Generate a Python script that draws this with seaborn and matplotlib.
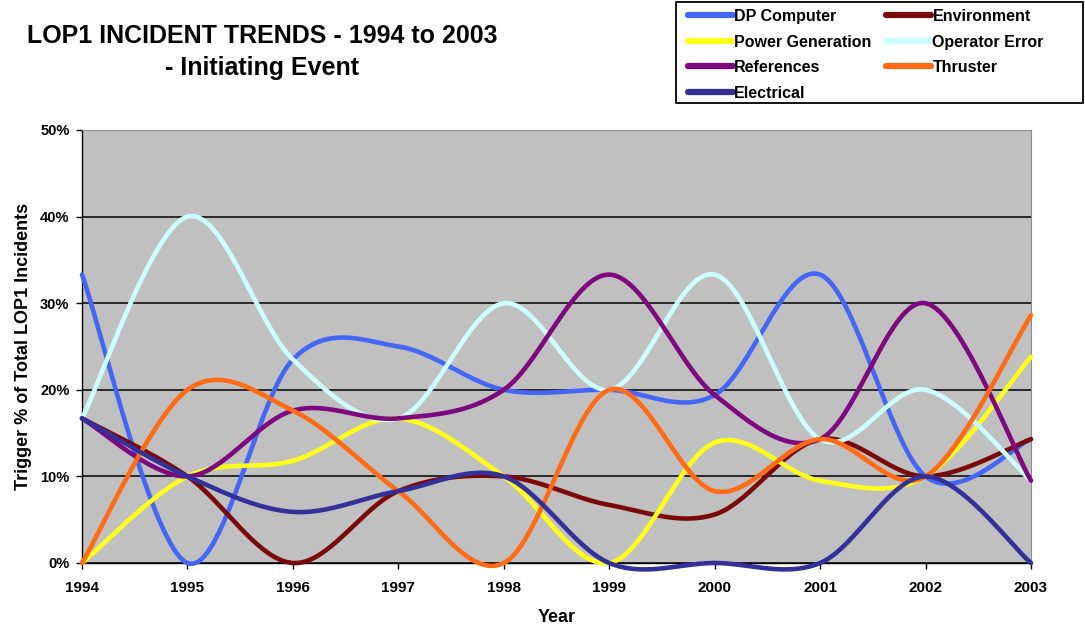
import numpy as np
import pandas as pd
import matplotlib
matplotlib.use("Agg")
import matplotlib.pyplot as plt
from matplotlib.lines import Line2D
from matplotlib.patches import Rectangle
from matplotlib.ticker import PercentFormatter, MultipleLocator
import seaborn as sns

# Share of LOP1 incidents by initiating event, per year
years = [1994, 1995, 1996, 1997, 1998, 1999, 2000, 2001, 2002, 2003]
dp_computer = [0.333, 0.000, 0.235, 0.250, 0.200, 0.200, 0.194, 0.333, 0.100, 0.143]
environment = [0.167, 0.100, 0.000, 0.083, 0.100, 0.067, 0.056, 0.143, 0.100, 0.143]
power_generation = [0.000, 0.100, 0.118, 0.167, 0.100, 0.000, 0.139, 0.095, 0.100, 0.238]
operator_error = [0.167, 0.400, 0.235, 0.167, 0.300, 0.200, 0.333, 0.143, 0.200, 0.095]
references = [0.167, 0.100, 0.176, 0.167, 0.200, 0.333, 0.194, 0.143, 0.300, 0.095]
thruster = [0.000, 0.200, 0.176, 0.083, 0.000, 0.200, 0.083, 0.143, 0.100, 0.286]
electrical = [0.167, 0.100, 0.059, 0.083, 0.100, 0.000, 0.000, 0.000, 0.100, 0.000]

series_names = ["DP Computer", "Environment", "Power Generation", "Operator Error",
                "References", "Thruster", "Electrical"]
series_values = [dp_computer, environment, power_generation, operator_error,
                 references, thruster, electrical]
colors = {
    "DP Computer": "#4466F5",
    "Environment": "#7A0A0A",
    "Power Generation": "#FFFF1A",
    "Operator Error": "#CCFFFF",
    "References": "#7E087E",
    "Thruster": "#FF6A14",
    "Electrical": "#34309A",
}


def smooth_curve(x, y, steps=40):
    """Catmull-Rom style Bezier smoothing through every data point."""
    pts = np.column_stack([np.asarray(x, float), np.asarray(y, float)])
    ext = np.vstack([pts[0], pts, pts[-1]])
    t = np.linspace(0, 1, steps)[:, None]
    out = []
    for i in range(1, len(ext) - 2):
        p0, p1, p2, p3 = ext[i - 1], ext[i], ext[i + 1], ext[i + 2]
        c1 = p1 + (p2 - p0) / 6.0
        c2 = p2 - (p3 - p1) / 6.0
        seg = ((1 - t) ** 3) * p1 + 3 * ((1 - t) ** 2) * t * c1 \
            + 3 * (1 - t) * (t ** 2) * c2 + (t ** 3) * p2
        out.append(seg if i == 1 else seg[1:])
    return np.vstack(out)


plt.rcParams["font.family"] = ["Liberation Sans", "DejaVu Sans"]
plt.rcParams["font.weight"] = "bold"

W, H = 1085, 629
fig = plt.figure(figsize=(W / 100, H / 100), dpi=100)
ax = fig.add_axes([82 / W, 1 - 563 / H, (1031 - 82) / W, (563 - 130) / H])
ax.set_facecolor("#C0C0C0")

for name, vals in zip(series_names, series_values):
    curve = smooth_curve(years, vals)
    df = pd.DataFrame({"Year": curve[:, 0], "Share": curve[:, 1]})
    sns.lineplot(data=df, x="Year", y="Share", sort=False, estimator=None,
                 color=colors[name], linewidth=3.3, ax=ax, clip_on=False,
                 solid_capstyle="round", zorder=3)

ax.set_xlim(1994, 2003)
ax.set_ylim(0, 0.5)
ax.set_xticks(years)
ax.set_xticklabels([str(y) for y in years])
ax.yaxis.set_major_locator(MultipleLocator(0.1))
ax.yaxis.set_major_formatter(PercentFormatter(1.0, decimals=0))
ax.grid(axis="y", color="black", linewidth=1.1, zorder=1)
ax.grid(axis="x", visible=False)
ax.set_axisbelow(True)

for side in ("top", "right"):
    ax.spines[side].set_color("#8C8C8C")
    ax.spines[side].set_linewidth(0.8)
for side in ("left", "bottom"):
    ax.spines[side].set_color("black")
    ax.spines[side].set_linewidth(1.0)

ax.tick_params(axis="both", direction="out", length=4, width=1, colors="black")
ax.tick_params(axis="x", pad=9, labelsize=11)
ax.tick_params(axis="y", pad=5, labelsize=10.5)
for lab in ax.get_xticklabels() + ax.get_yticklabels():
    lab.set_fontweight("bold")

ax.set_xlabel("Year", fontsize=13, fontweight="bold", labelpad=10)
ax.set_ylabel("Trigger % of Total LOP1 Incidents", fontsize=13,
              fontweight="bold", labelpad=6)

fig.text(262 / W, 1 - 52 / H,
         "LOP1 INCIDENT TRENDS - 1994 to 2003\n- Initiating Event",
         ha="center", va="center", fontsize=18, fontweight="bold",
         multialignment="center", linespacing=1.45)

# legend box
fig.patches.append(Rectangle((676 / W, 1 - 103 / H), 407 / W, 101 / H,
                             transform=fig.transFigure, facecolor="white",
                             edgecolor="black", linewidth=1.3, zorder=0))

legend_order = ["DP Computer", "Power Generation", "References", "Electrical",
                "Environment", "Operator Error", "Thruster"]
handles = [Line2D([0], [0], color=colors[n], linewidth=4.5, solid_capstyle="round")
           for n in legend_order]
leg = fig.legend(handles, legend_order, loc="upper left",
                 bbox_to_anchor=(688 / W, 1 - 9 / H), ncol=2, frameon=False,
                 handlelength=2.8, handletextpad=0.1, columnspacing=0.9,
                 labelspacing=0.66, borderaxespad=0, borderpad=0,
                 prop={"weight": "bold", "size": 11.5})

fig.savefig("out.png", dpi=100)
